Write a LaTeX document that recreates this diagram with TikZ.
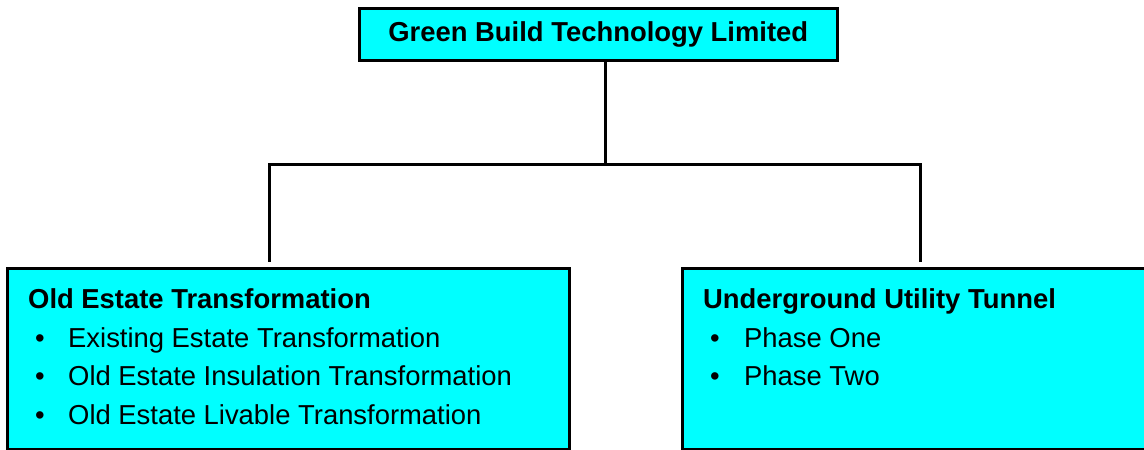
\documentclass[tikz,border=0pt]{standalone}
\usepackage{fontspec}
\setmainfont{Liberation Sans}
\usepackage{tikz}
\definecolor{boxcyan}{RGB}{0,255,255}

\begin{document}
\begin{tikzpicture}[x=1pt,y=-1pt,
    every node/.style={inner sep=0pt,font=\fontsize{27.4}{32}\selectfont},
    unit/.style={draw=black,line width=3pt,fill=boxcyan},
    head/.style={anchor=base west,font=\fontsize{27.4}{32}\selectfont\bfseries},
    item/.style={anchor=base west},
    link/.style={draw=black,line width=3pt}]
  \useasboundingbox (0,0) rectangle (1144,450);
  % boxes
  \node [unit,minimum width=478.5,minimum height=52] (gbt) at (598.25,34)
        {\bfseries Green Build Technology Limited};
  \node [unit,minimum width=562.5,minimum height=181] (oet) at (288.25,358.5) {};
  \node [unit,minimum width=467.5,minimum height=181] (uut) at (916.25,358.5) {};
  % connectors
  \coordinate (hub) at (605,164);
  \coordinate (ljoin) at (269,164);
  \coordinate (rjoin) at (920,164);
  \draw [link] (gbt.south -| hub) -- (hub);
  \draw [link,shorten <=5pt,shorten >=5pt] (ljoin |- oet.north) -- (ljoin) -- (rjoin) -- (rjoin |- uut.north);
  % left box text
  \node [head] (oethead) at (28,308) {Old Estate Transformation};
  \foreach \txt [count=\i] in {Existing Estate Transformation,
      Old Estate Insulation Transformation,Old Estate Livable Transformation} {
    \node [item] (oetdot\i) at (35,{308.5+38.5*\i}) {\textbullet};
    \node [item] (oetitem\i) at (68,{308.5+38.5*\i}) {\txt};
  }
  % right box text
  \node [head] (uuthead) at (703,308) {Underground Utility Tunnel};
  \foreach \txt [count=\i] in {Phase One,Phase Two} {
    \node [item] (uutdot\i) at (710,{308.5+38.5*\i}) {\textbullet};
    \node [item] (uutitem\i) at (744,{308.5+38.5*\i}) {\txt};
  }
\end{tikzpicture}
\end{document}
